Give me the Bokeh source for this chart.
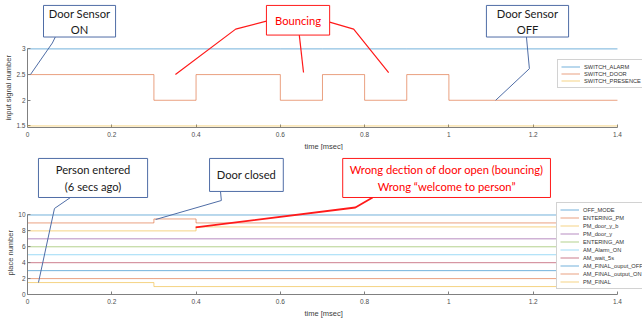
from bokeh.plotting import figure
from bokeh.layouts import column
from bokeh.models import Range1d, FixedTicker, CustomJSTickFormatter, Legend, LegendItem, Title
from bokeh.embed import file_html
from bokeh.resources import INLINE
from bokeh.core.properties import value

# ---------------- data ----------------
top_time = [0, 0.3, 0.4, 0.6, 0.7, 0.8, 0.9, 1.0, 1.4]
switch_alarm = [3, 3, 3, 3, 3, 3, 3, 3, 3]
switch_door = [2.5, 2, 2.5, 2, 2.5, 2, 2.5, 2, 2]
switch_presence = [1.5, 1.5, 1.5, 1.5, 1.5, 1.5, 1.5, 1.5, 1.5]
top_names = ["SWITCH_ALARM", "SWITCH_DOOR", "SWITCH_PRESENCE"]

bot_time = [0, 0.3, 0.4, 1.4]
off_mode = [10, 10, 10, 10]
entering_pm = [9, 9.5, 9, 9]
pm_door_y_b = [8, 8, 8.5, 8.5]
pm_door_y = [7, 7, 7, 7]
entering_am = [6, 6, 6, 6]
am_alarm_on = [5, 5, 5, 5]
am_wait_5s = [4, 4, 4, 4]
am_final_ouput_off = [3, 3, 3, 3]
am_final_output_on = [2, 2, 2, 2]
pm_final = [1.5, 1, 1, 1]
bot_names = ["OFF_MODE", "ENTERING_PM", "PM_door_y_b", "PM_door_y", "ENTERING_AM",
             "AM_Alarm_ON", "AM_wait_5s", "AM_FINAL_ouput_OFF", "AM_FINAL_output_ON", "PM_FINAL"]

x_ticks = [0, 0.2, 0.4, 0.6, 0.8, 1.0, 1.2, 1.4]
top_y_ticks = [1.5, 2, 2.5, 3]
bot_y_ticks = [0, 2, 4, 6, 8, 10]

x_label = "time [msec]"
top_y_label = "input signal number"
bot_y_label = "place number"

# ---------------- styles ----------------
MATLAB = ["#0072BD", "#D95319", "#EDB120", "#7E2F8E", "#77AC30", "#4DBEEE", "#A2142F"]
LINE_ALPHA = 0.55
AX_COLOR = "#808080"
TXT_COLOR = "#4d4d4d"
FONT = "Liberation Sans"
NOTE_FONT = "Lato"
BLUE_NOTE = "#4f6da6"
RED_NOTE = "#ff1a1a"


def make_fig(yr, frame_h, bottom_border, yticks, ylabel, ylab_offset, xlab_offset):
    p = figure(frame_width=615, frame_height=frame_h,
               x_range=Range1d(0, 1.4594), y_range=Range1d(*yr),
               min_border_left=27, min_border_right=0, min_border_top=0,
               min_border_bottom=bottom_border,
               output_backend="svg", toolbar_location=None)
    p.outline_line_color = None
    p.xgrid.visible = False
    p.ygrid.visible = False
    p.xaxis.ticker = FixedTicker(ticks=x_ticks)
    p.yaxis.ticker = FixedTicker(ticks=yticks)
    p.xaxis.bounds = (x_ticks[0], x_ticks[-1])
    p.yaxis.bounds = (yticks[0], yticks[-1])
    p.xaxis.formatter = CustomJSTickFormatter(code="return String(Math.round(tick*100)/100)")
    p.yaxis.formatter = CustomJSTickFormatter(code="return String(Math.round(tick*100)/100)")
    for ax in (p.xaxis[0], p.yaxis[0]):
        ax.major_tick_in = 3
        ax.major_tick_out = 0
        ax.minor_tick_line_color = None
        ax.axis_line_color = AX_COLOR
        ax.major_tick_line_color = AX_COLOR
        ax.major_label_text_font = FONT
        ax.major_label_text_font_size = "6.5px"
        ax.major_label_text_color = TXT_COLOR
    p.xaxis.major_label_standoff = 4
    p.yaxis.major_label_standoff = 2
    # axis titles placed as panel titles so they sit under/beside the axis rule
    p.add_layout(Title(text=ylabel, align="left", offset=ylab_offset, standoff=2,
                       text_font=FONT, text_font_size="7.5px", text_font_style="normal",
                       text_color="#404040"), "left")
    p.add_layout(Title(text=x_label, align="left", offset=xlab_offset, standoff=0,
                       text_font=FONT, text_font_size="7.5px", text_font_style="normal",
                       text_color="#404040"), "below")
    return p


def make_legend(p, items, loc, spacing):
    lg = Legend(items=items, location=loc, label_text_font=FONT,
                label_text_font_size="5.7px", label_text_color="#333333",
                label_height=7, glyph_height=7, glyph_width=19,
                label_standoff=4, spacing=spacing, padding=3, margin=0,
                border_line_color="#a6a6a6", border_line_width=1,
                background_fill_color="white", background_fill_alpha=1)
    p.add_layout(lg)


def add_note(p, box, text, color, text_color, paths, path_width):
    for path in paths:
        xs = [pt[0] for pt in path]
        ys = [pt[1] for pt in path]
        p.line(xs, ys, line_color=color, line_width=path_width)
    l, r, b, t = box
    p.quad(left=[l], right=[r], bottom=[b], top=[t], fill_color="white",
           line_color=color, line_width=1)
    p.text(x=[(l + r) / 2], y=[(b + t) / 2], text=[text], text_align="center",
           text_baseline="middle", text_font=value(NOTE_FONT),
           text_font_size="11.2px", text_color=text_color, text_line_height=1.25)


# ---------------- top plot ----------------
p1 = make_fig((1.47, 3.942), 127, 23, top_y_ticks, top_y_label, 7, 277)
series_top = [switch_alarm, switch_door, switch_presence]
items = []
for i, (name, ys) in enumerate(zip(top_names, series_top)):
    r = p1.step(top_time, ys, mode="after", line_color=MATLAB[i],
                line_alpha=LINE_ALPHA, line_width=1)
    if i == 2:
        r.level = "annotation"
    items.append(LegendItem(label=name, renderers=[r]))
make_legend(p1, items, (530, 39), 0)

add_note(p1, (0.038, 0.209, 3.231, 3.846), "Door Sensor\nON", BLUE_NOTE, "#1a1a1a",
         [[(0.066, 3.231), (0.059, 3.115), (0.007, 2.5)]], 1)
add_note(p1, (0.567, 0.717, 3.269, 3.846), "Bouncing", RED_NOTE, "#ff0000",
         [[(0.567, 3.54), (0.494, 3.385), (0.351, 2.5)],
          [(0.645, 3.269), (0.655, 2.54)],
          [(0.717, 3.52), (0.774, 3.385), (0.857, 2.54)]], 1.2)
add_note(p1, (1.089, 1.284, 3.231, 3.846), "Door Sensor\nOFF", BLUE_NOTE, "#1a1a1a",
         [[(1.184, 3.231), (1.191, 2.615), (1.111, 2.0)]], 1)

# ---------------- bottom plot ----------------
p2 = make_fig((0, 18.11), 144, 31, bot_y_ticks, bot_y_label, 19, 277)
series_bot = [off_mode, entering_pm, pm_door_y_b, pm_door_y, entering_am,
              am_alarm_on, am_wait_5s, am_final_ouput_off, am_final_output_on, pm_final]
items = []
for i, (name, ys) in enumerate(zip(bot_names, series_bot)):
    r = p2.step(bot_time, ys, mode="after", line_color=MATLAB[i % 7],
                line_alpha=LINE_ALPHA, line_width=1)
    items.append(LegendItem(label=name, renderers=[r]))
make_legend(p2, items, (529, 5), 1)

add_note(p2, (0.026, 0.285, 12.2, 17.11), "Person entered\n(6 secs ago)", BLUE_NOTE, "#1a1a1a",
         [[(0.102, 12.2), (0.064, 10.82), (0.026, 1.5)]], 1)
add_note(p2, (0.432, 0.607, 12.96, 17.11), "Door closed", BLUE_NOTE, "#1a1a1a",
         [[(0.458, 12.96), (0.460, 11.82), (0.304, 9.43)]], 1)
add_note(p2, (0.748, 1.241, 12.2, 17.11),
         "Wrong dection of door open (bouncing)\nWrong \u201cwelcome to person\u201d",
         RED_NOTE, "#ff0000",
         [[(0.819, 12.2), (0.778, 10.94), (0.399, 8.43)]], 1.8)

layout = column(p1, p2)
open("out.html", "w").write(file_html(layout, INLINE))
